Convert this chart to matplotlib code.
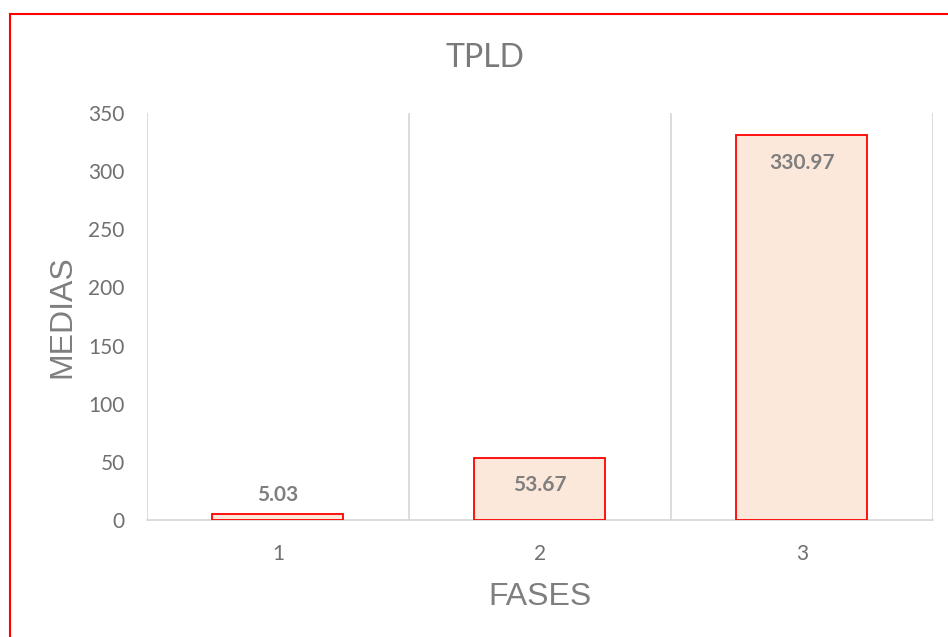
import matplotlib.pyplot as plt
from matplotlib.lines import Line2D

# data
fases = ['1', '2', '3']
medias = [5.03, 53.67, 330.97]
y_ticks = [0, 50, 100, 150, 200, 250, 300, 350]

fig = plt.figure(figsize=(9.48, 6.37), dpi=100)
ax = fig.add_axes([147 / 948, 1 - 520 / 637, (933 - 147) / 948, (520 - 113) / 637])

x = list(range(1, len(fases) + 1))
bars = ax.bar(x, medias, width=0.5, color='#FCE8DA', edgecolor='#FF0000', linewidth=1.3, zorder=3)

ax.set_xlim(0.5, len(fases) + 0.5)
ax.set_ylim(0, 350)
ax.set_yticks(y_ticks)
ax.set_xticks(x)
ax.set_xticklabels(fases)

# vertical category gridlines like Excel
for b in [i + 0.5 for i in range(len(fases) + 1)]:
    ax.axvline(b, color='#D9D9D9', lw=1.3, zorder=1)

for s in ['top', 'right', 'left']:
    ax.spines[s].set_visible(False)
ax.spines['bottom'].set_color('#D9D9D9')
ax.spines['bottom'].set_linewidth(1.3)
ax.tick_params(length=0, labelsize=15, labelcolor='#707070')
ax.tick_params(axis='x', pad=17)
ax.tick_params(axis='y', pad=16)
for t in ax.get_xticklabels() + ax.get_yticklabels():
    t.set_family('Lato')

# data labels: inside end for tall bars, above for the short one
for xi, v in zip(x, medias):
    off = -20 if v > 20 else 14
    ax.annotate(f'{v:.2f}', (xi, v), xytext=(0, off), textcoords='offset points',
                ha='center', va='center', fontsize=15, fontweight='bold', color='#7F7F7F',
                family='Lato', zorder=4)

fig.text(485 / 948, 1 - 58 / 637, 'TPLD', ha='center', va='center', fontsize=23,
         color='#7A7A7A', family='Lato')
ax.set_xlabel('FASES', fontsize=23, color='#7F7F7F', family='Liberation Sans', labelpad=13)
ax.set_ylabel('MEDIAS', fontsize=23, color='#7F7F7F', family='Liberation Sans', labelpad=8)

# red chart border (cut off at right and bottom)
bx = 9.5 / 948
by = 1 - 14 / 637
fig.add_artist(Line2D([bx, bx], [0, by], color='#FF0000', lw=1.5, transform=fig.transFigure))
fig.add_artist(Line2D([bx, 1], [by, by], color='#FF0000', lw=1.5, transform=fig.transFigure))

plt.savefig('out.png', dpi=100)
